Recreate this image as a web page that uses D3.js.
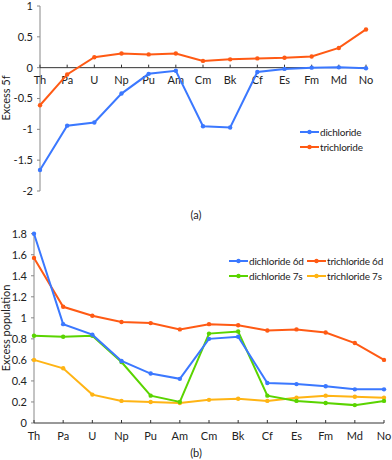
<!DOCTYPE html>
<html>
<head>
<meta charset="utf-8">
<script src="https://cdn.jsdelivr.net/npm/d3@7"></script>
<style>
  body { margin: 0; background: #fff; }
  svg text { font-family: Lato, "Open Sans", sans-serif; fill: #222; }
</style>
</head>
<body>
<div id="chart"></div>
<script>
const elements = ["Th","Pa","U","Np","Pu","Am","Cm","Bk","Cf","Es","Fm","Md","No"];

// (a) excess 5f
const di5f  = [-1.66,-0.94,-0.89,-0.42,-0.10,-0.05,-0.95,-0.97,-0.07,-0.02,0.00,0.005,-0.01];
const tri5f = [-0.61,-0.11,0.17,0.23,0.215,0.23,0.11,0.135,0.15,0.16,0.18,0.32,0.62];
const aTicks = [1,0.5,0,-0.5,-1,-1.5,-2];

// (b) excess population
const di6d  = [1.80,0.94,0.84,0.59,0.47,0.42,0.80,0.82,0.38,0.37,0.35,0.32,0.32];
const tri6d = [1.57,1.105,1.02,0.96,0.95,0.89,0.94,0.93,0.88,0.89,0.86,0.76,0.60];
const di7s  = [0.83,0.82,0.83,0.58,0.26,0.20,0.85,0.87,0.26,0.21,0.19,0.17,0.21];
const tri7s = [0.60,0.52,0.27,0.21,0.20,0.19,0.22,0.23,0.21,0.24,0.26,0.25,0.24];
const bTicks = [0,0.2,0.4,0.6,0.8,1,1.2,1.4,1.6,1.8];

const blue = "#3b78ff", orange = "#ff5a14", green = "#5ad400", yellow = "#ffb414";

const svg = d3.select("#chart").append("svg")
  .attr("width", 392).attr("height", 460);

function drawSeries(g, x, y, vals, col) {
  const line = d3.line().x((d, i) => x(elements[i])).y(d => y(d));
  g.append("path").datum(vals)
    .attr("fill", "none").attr("stroke", col).attr("stroke-width", 2)
    .attr("d", line);
  g.selectAll(null).data(vals).enter().append("circle")
    .attr("cx", (d, i) => x(elements[i])).attr("cy", d => y(d))
    .attr("r", 2.2).attr("fill", col);
}

function legendItem(x0, y0, col, label) {
  svg.append("line").attr("x1", x0).attr("x2", x0 + 19)
    .attr("y1", y0).attr("y2", y0).attr("stroke", col).attr("stroke-width", 2);
  svg.append("circle").attr("cx", x0 + 9.5).attr("cy", y0).attr("r", 2.2).attr("fill", col);
  svg.append("text").attr("x", x0 + 20).attr("y", y0).attr("dy", "0.35em")
    .attr("font-size", 10).attr("letter-spacing", -0.2).text(label);
}

// ---- chart (a)
const xa = d3.scalePoint().domain(elements).range([40, 366]);
const ya = d3.scaleLinear().domain([-2, 1]).range([191, 6]);
const ga = svg.append("g");

ga.append("line").attr("x1", 40).attr("x2", 40).attr("y1", ya(1)).attr("y2", ya(-2))
  .attr("stroke", "#888");
ga.selectAll(null).data(aTicks).enter().append("line")
  .attr("x1", 37).attr("x2", 40).attr("y1", d => ya(d)).attr("y2", d => ya(d))
  .attr("stroke", "#888");
ga.selectAll(null).data(aTicks).enter().append("text")
  .attr("x", 33).attr("y", d => ya(d)).attr("dy", "0.35em")
  .attr("text-anchor", "end").attr("font-size", 11).text(d => d);
ga.append("line").attr("x1", 40).attr("x2", 366).attr("y1", ya(0)).attr("y2", ya(0))
  .attr("stroke", "#333");
ga.selectAll(null).data(elements).enter().append("line")
  .attr("x1", d => xa(d)).attr("x2", d => xa(d)).attr("y1", ya(0)).attr("y2", ya(0) - 3)
  .attr("stroke", "#333");
ga.selectAll(null).data(elements).enter().append("text")
  .attr("x", d => xa(d)).attr("y", 80).attr("dy", "0.35em")
  .attr("text-anchor", "middle").attr("font-size", 11).text(d => d);
ga.append("text").attr("transform", "translate(10,98) rotate(-90)")
  .attr("text-anchor", "middle").attr("font-size", 11).text("Excess 5f");

drawSeries(ga, xa, ya, tri5f, orange);
drawSeries(ga, xa, ya, di5f, blue);

legendItem(300, 132, blue, "dichloride");
legendItem(300, 147, orange, "trichloride");

svg.append("text").attr("x", 196).attr("y", 215).attr("dy", "0.35em")
  .attr("text-anchor", "middle").attr("font-size", 11).text("(a)");

// ---- chart (b)
const xb = d3.scalePoint().domain(elements).range([34, 384]);
const yb = d3.scaleLinear().domain([0, 1.8]).range([423, 233.7]);
const gb = svg.append("g");

gb.append("line").attr("x1", 34).attr("x2", 34).attr("y1", yb(1.8)).attr("y2", yb(0))
  .attr("stroke", "#888");
gb.selectAll(null).data(bTicks).enter().append("line")
  .attr("x1", 31).attr("x2", 34).attr("y1", d => yb(d)).attr("y2", d => yb(d))
  .attr("stroke", "#888");
gb.selectAll(null).data(bTicks).enter().append("text")
  .attr("x", 27).attr("y", d => yb(d)).attr("dy", "0.35em")
  .attr("text-anchor", "end").attr("font-size", 11).text(d => d);
gb.append("line").attr("x1", 34).attr("x2", 384).attr("y1", yb(0)).attr("y2", yb(0))
  .attr("stroke", "#333");
gb.selectAll(null).data(elements).enter().append("line")
  .attr("x1", d => xb(d)).attr("x2", d => xb(d)).attr("y1", yb(0)).attr("y2", yb(0) - 3)
  .attr("stroke", "#333");
gb.selectAll(null).data(elements).enter().append("text")
  .attr("x", d => xb(d)).attr("y", 436).attr("dy", "0.35em")
  .attr("text-anchor", "middle").attr("font-size", 11).text(d => d);
gb.append("text").attr("transform", "translate(10,328) rotate(-90)")
  .attr("text-anchor", "middle").attr("font-size", 11).text("Excess population");

drawSeries(gb, xb, yb, tri7s, yellow);
drawSeries(gb, xb, yb, di7s, green);
drawSeries(gb, xb, yb, tri6d, orange);
drawSeries(gb, xb, yb, di6d, blue);

legendItem(229, 261, blue, "dichloride 6d");
legendItem(307, 261, orange, "trichloride 6d");
legendItem(229, 276, green, "dichloride 7s");
legendItem(307, 276, yellow, "trichloride 7s");

svg.append("text").attr("x", 196).attr("y", 453).attr("dy", "0.35em")
  .attr("text-anchor", "middle").attr("font-size", 11).text("(b)");
</script>
</body>
</html>
